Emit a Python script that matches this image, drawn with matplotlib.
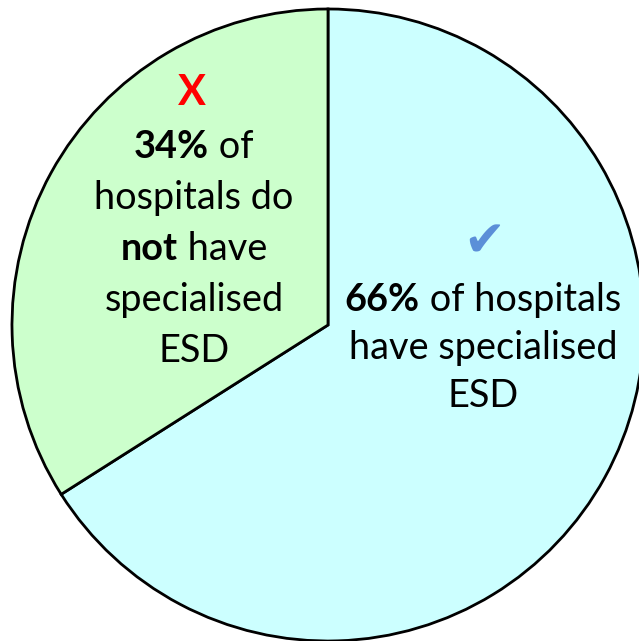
import matplotlib
matplotlib.use("Agg")
import matplotlib.pyplot as plt

labels = ["Have specialised ESD", "Do not have specialised ESD"]
values = [66, 34]
colors = ["#CCFFFF", "#CCFFCC"]

left_lines = [
    [("34%", "bold"), (" of", "normal")],
    [("hospitals do", "normal")],
    [("not", "bold"), (" have", "normal")],
    [("specialised", "normal")],
    [("ESD", "normal")],
]
right_lines = [
    [("66%", "bold"), (" of hospitals", "normal")],
    [("have specialised", "normal")],
    [("ESD", "normal")],
]

W, H = 639, 641
fig = plt.figure(figsize=(W / 100, H / 100), dpi=100)
ax = fig.add_axes([0, 0, 1, 1])
ax.pie(values, colors=colors, startangle=90, counterclock=False,
       center=(328, H - 325), radius=316,
       wedgeprops=dict(edgecolor="black", linewidth=2))
ax.set_xlim(0, W)
ax.set_ylim(0, H)
ax.set_aspect("auto")
ax.axis("off")

FONT = "Lato"
FS = 27.3
renderer = fig.canvas.get_renderer()


def draw_line(segments, xc, y_img):
    y = H - y_img
    texts = []
    widths = []
    for s, w in segments:
        t = ax.text(0, y, s, fontsize=FS, fontweight=w, family=FONT,
                    ha="left", va="center")
        bb = t.get_window_extent(renderer=renderer)
        texts.append(t)
        widths.append(bb.width)
    total = sum(widths)
    x = xc - total / 2
    for t, wd in zip(texts, widths):
        t.set_x(x)
        x += wd


ax.text(192, H - 93, "X", fontsize=30, fontweight="bold", color="#FF0000",
        family=FONT, ha="center", va="center")
for i, seg in enumerate(left_lines):
    draw_line(seg, 194, 147 + i * 51)

ax.text(484, H - 242, "\u2714", fontsize=36, color="#5B8FD8",
        family="DejaVu Sans", ha="center", va="center", style="italic")
for i, seg in enumerate(right_lines):
    draw_line(seg, 483, 300 + i * 48)

fig.savefig("out.png", dpi=100)
